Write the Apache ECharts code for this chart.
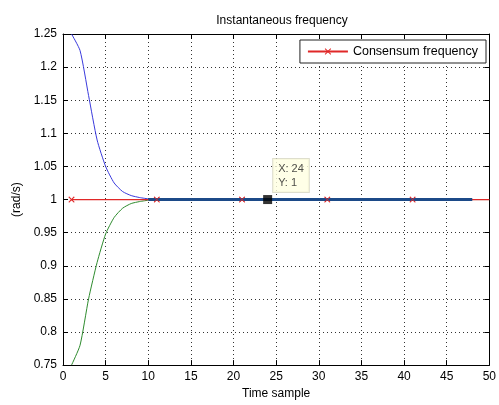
<!DOCTYPE html>
<html>
<head>
<meta charset="utf-8">
<script src="https://cdn.jsdelivr.net/npm/echarts@6/dist/echarts.min.js"></script>
<style>
  html, body { margin: 0; padding: 0; background: #fff; }
  #chart { width: 499px; height: 405px; }
</style>
</head>
<body>
<div id="chart"></div>
<script>
// Transient samples of the two oscillators before they lock
const transientSamples = [1, 2, 3, 4, 5, 6, 7, 8, 9, 10];
const upperFreq = [1.25, 1.225, 1.157, 1.09, 1.05, 1.025, 1.012, 1.006, 1.003, 1.001];
const lowerFreq = [0.75, 0.78, 0.85, 0.905, 0.948, 0.973, 0.987, 0.994, 0.997, 0.999];

// Settled portion (both oscillators at the common frequency)
const settledSamples = [10, 48];
const settledFreq = [1, 1];
const lowerTailSamples = [10, 50];
const lowerTailFreq = [1, 1];

// Consensus reference line and the samples carrying its markers
const consensusSamples = [1, 11, 21, 31, 41, 50];
const consensusFreq = [1, 1, 1, 1, 1, 1];
const consensusMarked = [true, true, true, true, true, false];

// Data cursor
const cursorSample = 24;
const cursorFreq = 1;

const xTicks = { min: 0, max: 50, interval: 5 };
const yTicks = { min: 0.75, max: 1.25, interval: 0.05 };

const crossSymbol = 'path://M0,1L1,0L5,4L9,0L10,1L6,5L10,9L9,10L5,6L1,10L0,9L4,5Z';
const font = 'Liberation Sans, Arial, sans-serif';
const red = '#e02828';

const pairs = (xs, ys) => xs.map((x, i) => [x, ys[i]]);

const chart = echarts.init(document.getElementById('chart'), null, { renderer: 'canvas' });

const gridLine = { show: true, lineStyle: { color: '#333', type: [1, 3], width: 1 } };
const axisLine = { show: true, onZero: false, lineStyle: { color: '#000', width: 1 } };
const tick = { show: true, inside: true, length: 5, lineStyle: { color: '#000' } };

chart.setOption({
  animation: false,
  backgroundColor: '#fff',
  title: {
    text: 'Instantaneous frequency',
    left: 277, top: 10, textAlign: 'center',
    textStyle: { fontFamily: font, fontSize: 12, fontWeight: 'normal', color: '#000' }
  },
  legend: {
    data: ['Consensum frequency'],
    right: 13, top: 40,
    padding: [5, 8, 5, 7],
    itemWidth: 40, itemHeight: 8, itemGap: 4,
    borderColor: '#222', borderWidth: 1,
    backgroundColor: '#fff',
    textStyle: { fontFamily: font, fontSize: 12.5, color: '#000' }
  },
  grid: { left: 63, right: 7, top: 34, bottom: 35 },
  xAxis: [{
    type: 'value', min: xTicks.min, max: xTicks.max, interval: xTicks.interval,
    name: 'Time sample', nameLocation: 'middle', nameGap: 20,
    nameTextStyle: { fontFamily: font, fontSize: 12, color: '#000' },
    axisLine: axisLine, axisTick: tick,
    axisLabel: { fontFamily: font, fontSize: 12, color: '#000', margin: 6 },
    splitLine: gridLine
  }, {
    type: 'value', position: 'top', min: xTicks.min, max: xTicks.max, interval: xTicks.interval,
    axisLine: axisLine, axisTick: tick,
    axisLabel: { show: false }, splitLine: { show: false }
  }],
  yAxis: [{
    type: 'value', min: yTicks.min, max: yTicks.max, interval: yTicks.interval,
    name: '(rad/s)', nameLocation: 'middle', nameGap: 39, nameRotate: 90,
    nameTextStyle: { fontFamily: font, fontSize: 12, color: '#000' },
    axisLine: axisLine, axisTick: tick,
    axisLabel: { fontFamily: font, fontSize: 12, color: '#000', margin: 6 },
    splitLine: gridLine
  }, {
    type: 'value', position: 'right', min: yTicks.min, max: yTicks.max, interval: yTicks.interval,
    axisLine: axisLine, axisTick: tick,
    axisLabel: { show: false }, splitLine: { show: false }
  }],
  series: [
    {
      name: 'Consensum frequency', type: 'line', z: 5,
      data: consensusSamples.map((x, i) => ({
        value: [x, consensusFreq[i]],
        symbol: consensusMarked[i] ? crossSymbol : 'none'
      })),
      symbol: crossSymbol, symbolSize: 6, showAllSymbol: true,
      lineStyle: { color: red, width: 1.3 },
      itemStyle: { color: red }
    },
    {
      name: 'lower tail', type: 'line', z: 3, symbol: 'none',
      data: pairs(lowerTailSamples, lowerTailFreq),
      lineStyle: { color: '#2e8b2e', width: 1 }
    },
    {
      name: 'lower', type: 'line', z: 3, symbol: 'none', smooth: 0.2,
      data: pairs(transientSamples, lowerFreq),
      lineStyle: { color: '#2e8b2e', width: 1 }
    },
    {
      name: 'upper', type: 'line', z: 4, symbol: 'none', smooth: 0.2,
      data: pairs(transientSamples, upperFreq),
      lineStyle: { color: '#3a3adc', width: 1 }
    },
    {
      name: 'settled', type: 'line', z: 6, symbol: 'none',
      data: pairs(settledSamples, settledFreq),
      lineStyle: { color: '#1c4a88', width: 3 }
    },
    {
      // consensus markers kept visible on top of the settled trace
      name: 'consensus markers', type: 'scatter', z: 7,
      data: pairs(consensusSamples, consensusFreq).filter((_, i) => consensusMarked[i]),
      symbol: crossSymbol, symbolSize: 6,
      itemStyle: { color: red, opacity: 0.8 }
    },
    {
      name: 'cursor', type: 'scatter', z: 10,
      data: [[cursorSample, cursorFreq]],
      symbol: 'rect', symbolSize: 9,
      itemStyle: { color: '#000' },
      label: {
        show: true,
        position: [10, -36],
        formatter: p => 'X: ' + p.value[0] + '\nY: ' + p.value[1],
        fontFamily: font, fontSize: 11, color: '#222', lineHeight: 14,
        backgroundColor: '#ffffe1', borderColor: '#d6d6c0', borderWidth: 1,
        padding: [3, 5, 2, 5], align: 'left'
      }
    }
  ]
});
</script>
</body>
</html>
